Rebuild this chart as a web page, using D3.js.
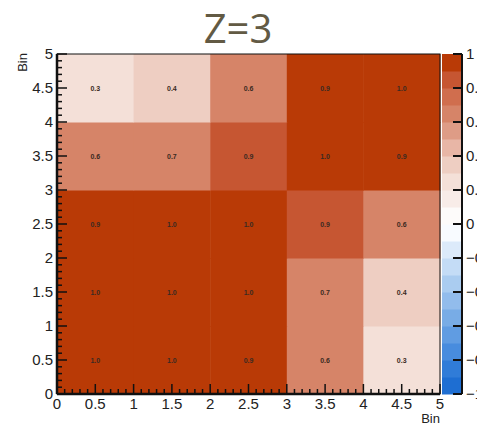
<!DOCTYPE html>
<html>
<head>
<meta charset="utf-8">
<script src="https://cdn.jsdelivr.net/npm/d3@7"></script>
<style>
  body { margin: 0; background: #fff; }
  svg { display: block; }
</style>
</head>
<body>
<svg id="drawing_region"></svg>
<script>
// bin centres on both axes
const xBins = [0.5, 1.5, 2.5, 3.5, 4.5];
const yBins = [0.5, 1.5, 2.5, 3.5, 4.5];

// cell contents, one row per y bin (bottom to top)
const row05 = [0.98, 0.97, 0.93, 0.62, 0.27];
const row15 = [0.97, 0.99, 0.98, 0.68, 0.36];
const row25 = [0.93, 0.98, 0.99, 0.87, 0.62];
const row35 = [0.62, 0.68, 0.87, 0.98, 0.93];
const row45 = [0.27, 0.36, 0.62, 0.93, 0.98];
const rows = [row05, row15, row25, row35, row45];

const axisTicks = [0, 0.5, 1, 1.5, 2, 2.5, 3, 3.5, 4, 4.5, 5];
const paletteTicks = [1, 0.8, 0.6, 0.4, 0.2, 0, -0.2, -0.4, -0.6, -0.8, -1];

// 20 contour levels from -1 to 1
const paletteColors = [
  '#1e6ed2', '#307cd8', '#488cde', '#609ce2', '#78ace6',
  '#92bcec', '#aaccf0', '#c4dcf6', '#dceafa', '#f8fbff',
  '#fdfbfa', '#f8ece8', '#f4e0d8', '#eecec2', '#e8b6a6',
  '#de9c86', '#d68468', '#d06e4e', '#c65632', '#b93a06'
];

const config = {
  width: 477, height: 427,
  left: 57, right: 440, top: 54, bottom: 394,
  barLeft: 442, barRight: 462
};

const svg = d3.select('#drawing_region')
  .attr('width', config.width)
  .attr('height', config.height);

const xscale = d3.scaleLinear().domain([0, 5]).range([config.left, config.right]);
const yscale = d3.scaleLinear().domain([0, 5]).range([config.bottom, config.top]);
const zscale = d3.scaleLinear().domain([-1, 1]).range([config.bottom, config.top]);

const levelIndex = v => Math.max(0, Math.min(19, Math.floor((v + 1) / 0.1)));
const fmt = d3.format('.1f');

// title
svg.append('text')
  .attr('x', 238).attr('y', 43)
  .attr('text-anchor', 'middle')
  .attr('font-family', 'Open Sans, sans-serif')
  .attr('font-size', 40)
  .attr('fill', '#625a44')
  .text('Z=3');

// cells
const cells = [];
rows.forEach((r, j) => r.forEach((v, i) => cells.push({x: xBins[i], y: yBins[j], v: v})));

svg.append('g').selectAll('rect')
  .data(cells).join('rect')
  .attr('x', d => xscale(d.x - 0.5))
  .attr('y', d => yscale(d.y + 0.5))
  .attr('width', d => xscale(d.x + 0.5) - xscale(d.x - 0.5) + 0.5)
  .attr('height', d => yscale(d.y - 0.5) - yscale(d.y + 0.5) + 0.5)
  .attr('fill', d => paletteColors[levelIndex(d.v)]);

svg.append('g').selectAll('text')
  .data(cells).join('text')
  .attr('x', d => xscale(d.x))
  .attr('y', d => yscale(d.y) + 2.5)
  .attr('text-anchor', 'middle')
  .attr('font-family', 'Liberation Sans, Arial, sans-serif')
  .attr('font-size', 7)
  .attr('font-weight', 'bold')
  .attr('fill', '#3a2a22')
  .text(d => fmt(d.v));

// frame
svg.append('rect')
  .attr('x', config.left).attr('y', config.top)
  .attr('width', config.right - config.left)
  .attr('height', config.bottom - config.top)
  .attr('fill', 'none').attr('stroke', '#111').attr('stroke-width', 1);

// minor + major ticks on x and y
const minor = d3.range(0, 5.001, 0.1);
const isMajor = t => Math.abs(t * 2 - Math.round(t * 2)) < 1e-6;

const tickG = svg.append('g').attr('stroke', '#111').attr('stroke-width', 1.5);
tickG.selectAll('.xt').data(minor).join('line')
  .attr('x1', d => xscale(d)).attr('x2', d => xscale(d))
  .attr('y1', config.bottom).attr('y2', d => config.bottom - (isMajor(d) ? 10 : 5));
tickG.selectAll('.yt').data(minor).join('line')
  .attr('y1', d => yscale(d)).attr('y2', d => yscale(d))
  .attr('x1', config.left).attr('x2', d => config.left + (isMajor(d) ? 10 : 5));

svg.append('line')
  .attr('x1', config.left).attr('x2', config.right)
  .attr('y1', config.bottom).attr('y2', config.bottom)
  .attr('stroke', '#111').attr('stroke-width', 2.5);
svg.append('line')
  .attr('x1', config.left).attr('x2', config.left)
  .attr('y1', config.top).attr('y2', config.bottom)
  .attr('stroke', '#111').attr('stroke-width', 2.5);

const tickFont = 'Liberation Sans, Arial, sans-serif';
svg.append('g').selectAll('text')
  .data(axisTicks).join('text')
  .attr('x', d => xscale(d))
  .attr('y', config.bottom + 15)
  .attr('text-anchor', 'middle')
  .attr('font-family', tickFont).attr('font-size', 15).attr('fill', '#222')
  .text(d => d);

svg.append('g').selectAll('text')
  .data(axisTicks).join('text')
  .attr('x', config.left - 4)
  .attr('y', d => yscale(d) + 5)
  .attr('text-anchor', 'end')
  .attr('font-family', tickFont).attr('font-size', 15).attr('fill', '#222')
  .text(d => d);

// axis titles
svg.append('text')
  .attr('x', config.right).attr('y', config.bottom + 29)
  .attr('text-anchor', 'end')
  .attr('font-family', tickFont).attr('font-size', 13).attr('fill', '#222')
  .text('Bin');
svg.append('text')
  .attr('transform', `translate(27, ${config.top - 1}) rotate(-90)`)
  .attr('text-anchor', 'end')
  .attr('font-family', tickFont).attr('font-size', 13).attr('fill', '#222')
  .text('Bin');

// palette
const levels = d3.range(20);
svg.append('g').selectAll('rect')
  .data(levels).join('rect')
  .attr('x', config.barLeft)
  .attr('y', i => zscale(-1 + (i + 1) * 0.1))
  .attr('width', config.barRight - config.barLeft)
  .attr('height', i => zscale(-1 + i * 0.1) - zscale(-1 + (i + 1) * 0.1) + 0.5)
  .attr('fill', i => paletteColors[i]);

svg.append('line')
  .attr('x1', config.barRight).attr('x2', config.barRight)
  .attr('y1', config.top).attr('y2', config.bottom)
  .attr('stroke', '#111').attr('stroke-width', 2);

svg.append('g').selectAll('line')
  .data(paletteTicks).join('line')
  .attr('x1', config.barRight - 9).attr('x2', config.barRight)
  .attr('y1', d => zscale(d)).attr('y2', d => zscale(d))
  .attr('stroke', '#111').attr('stroke-width', 2);

// labels run past the window edge, as in the reference
svg.append('g').selectAll('text')
  .data(paletteTicks).join('text')
  .attr('x', config.barRight + 4)
  .attr('y', d => zscale(d) + 5)
  .attr('font-family', tickFont).attr('font-size', 15).attr('fill', '#222')
  .text(d => d < 0 ? '\u2212' + Math.abs(d) : d);
</script>
</body>
</html>
